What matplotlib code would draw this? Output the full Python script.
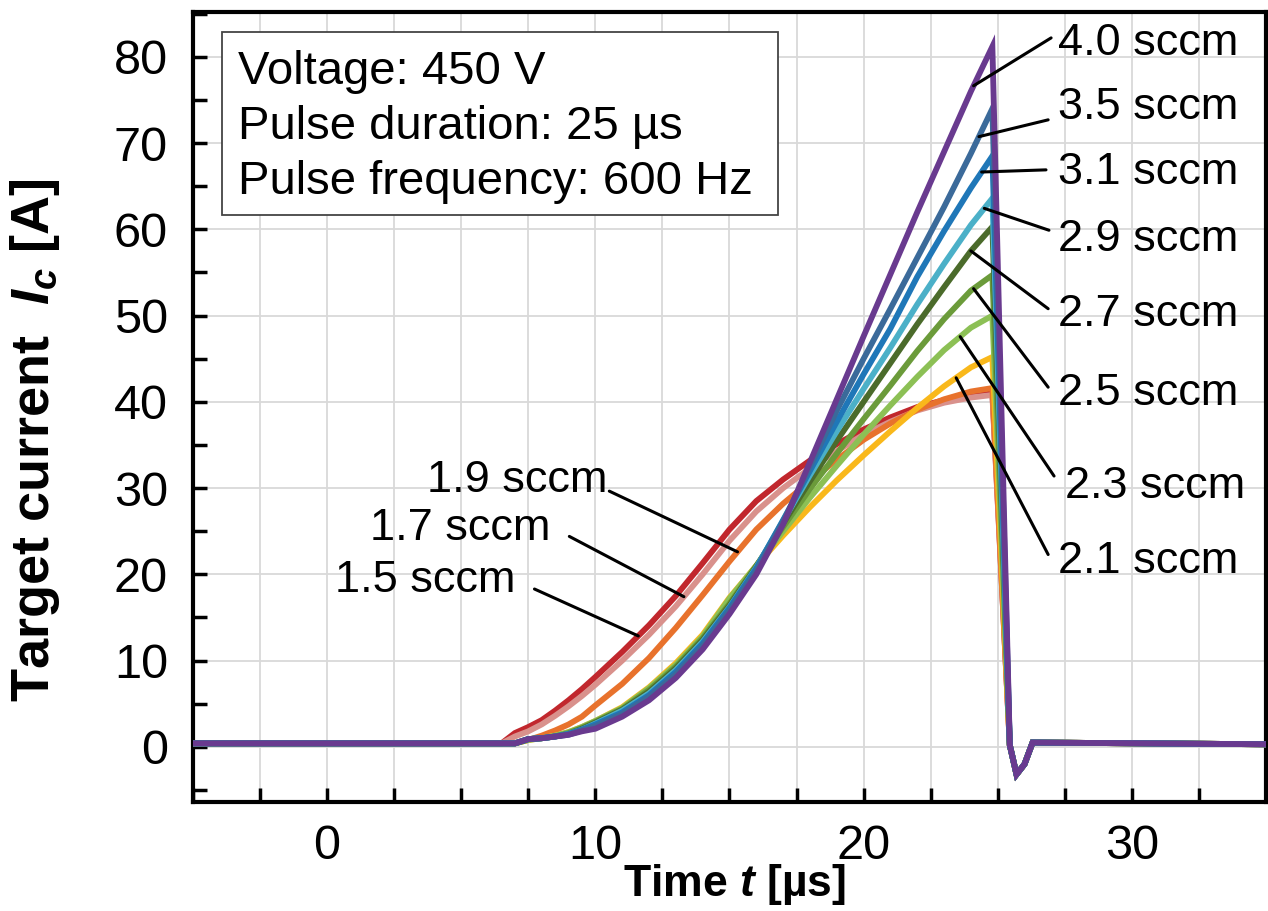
import numpy as np
import matplotlib
matplotlib.use('Agg')
import matplotlib.pyplot as plt
from matplotlib.ticker import MultipleLocator
from matplotlib.patches import Rectangle

plt.rcParams['font.family'] = ['Liberation Sans', 'DejaVu Sans']
plt.rcParams['mathtext.fontset'] = 'custom'
plt.rcParams['mathtext.it'] = 'Liberation Sans:italic:bold'
plt.rcParams['mathtext.rm'] = 'Liberation Sans:bold'

# time axis in microseconds (shared by all curves)
time_us = [-5, 6.5, 7, 7.5, 8, 8.5, 9, 9.5, 10, 11, 12, 13, 14, 15, 16, 17, 18,
           19, 20, 21, 22, 23, 24, 24.8, 25.45, 25.7, 26.0, 26.3, 35]

# target current [A] per Ar flow
i_15 = [0.4, 0.4, 1.6, 2.3, 3.1, 4.2, 5.4, 6.7, 8.1, 11.0, 14.1, 17.5, 21.3, 25.2, 28.5,
        31.0, 33.2, 35.1, 36.8, 38.2, 39.4, 40.2, 40.8, 41.1, 0.2, -3.2, -2.0, 0.5, 0.3]
i_17 = [0.4, 0.4, 1.2, 1.8, 2.6, 3.6, 4.7, 5.9, 7.2, 10.0, 13.0, 16.3, 20.0, 23.9, 27.3,
        30.0, 32.3, 34.3, 36.2, 37.7, 39.0, 39.9, 40.5, 40.8, 0.2, -3.2, -2.0, 0.5, 0.3]
i_19 = [0.4, 0.4, 0.4, 0.8, 1.3, 1.9, 2.6, 3.5, 4.8, 7.3, 10.3, 13.8, 17.6, 21.5, 25.2,
        28.2, 30.8, 33.3, 35.6, 37.5, 39.1, 40.3, 41.2, 41.6, 0.2, -3.2, -2.0, 0.5, 0.3]
i_21 = [0.4, 0.4, 0.4, 0.8, 1.0, 1.3, 1.7, 2.3, 3.0, 4.6, 6.9, 9.7, 13.0, 17.3, 21.0,
        24.5, 27.8, 30.9, 33.8, 36.6, 39.3, 41.8, 44.0, 45.2, 0.2, -3.2, -2.0, 0.5, 0.3]
i_23 = [0.4, 0.4, 0.4, 0.8, 1.0, 1.3, 1.7, 2.3, 3.0, 4.5, 6.8, 9.5, 12.8, 17.2, 21.0,
        25.0, 28.9, 32.6, 36.2, 39.6, 42.9, 46.0, 48.6, 50.0, 0.2, -3.2, -2.0, 0.5, 0.3]
i_25 = [0.4, 0.4, 0.4, 0.9, 1.0, 1.2, 1.6, 2.2, 2.9, 4.4, 6.6, 9.3, 12.6, 16.6, 21.0,
        25.5, 29.9, 34.0, 38.0, 41.9, 45.9, 49.6, 52.9, 54.7, 0.2, -3.2, -2.0, 0.5, 0.3]
i_27 = [0.4, 0.4, 0.4, 0.9, 1.0, 1.2, 1.5, 2.1, 2.8, 4.3, 6.4, 9.1, 12.4, 16.4, 20.9,
        25.9, 30.8, 35.5, 40.0, 44.5, 49.0, 53.3, 57.5, 60.3, 0.2, -3.2, -2.0, 0.5, 0.3]
i_29 = [0.4, 0.4, 0.4, 0.9, 1.0, 1.2, 1.5, 2.0, 2.7, 4.2, 6.2, 8.9, 12.2, 16.2, 20.8,
        26.2, 31.5, 36.6, 41.5, 46.3, 51.3, 56.0, 60.5, 63.6, 0.2, -3.2, -2.0, 0.5, 0.3]
i_31 = [0.4, 0.4, 0.4, 0.9, 1.0, 1.2, 1.5, 2.0, 2.6, 4.0, 6.0, 8.7, 12.0, 16.1, 20.7,
        26.3, 32.0, 37.7, 43.2, 48.5, 54.5, 59.8, 64.8, 68.5, 0.2, -3.2, -2.0, 0.5, 0.3]
i_35 = [0.4, 0.4, 0.4, 0.9, 1.0, 1.2, 1.4, 1.9, 2.4, 3.8, 5.8, 8.4, 11.7, 15.8, 20.4,
        26.1, 32.5, 39.0, 45.0, 50.8, 56.7, 62.6, 68.8, 74.0, 0.2, -3.2, -2.0, 0.5, 0.3]
i_40 = [0.4, 0.4, 0.4, 0.9, 1.0, 1.2, 1.4, 1.8, 2.1, 3.5, 5.4, 8.0, 11.3, 15.4, 20.0,
        25.8, 33.0, 40.3, 47.6, 54.8, 62.0, 69.0, 76.0, 81.2, 0.2, -3.2, -2.0, 0.5, 0.3]

labels = ['1.5 sccm', '1.7 sccm', '1.9 sccm', '2.1 sccm', '2.3 sccm', '2.5 sccm',
          '2.7 sccm', '2.9 sccm', '3.1 sccm', '3.5 sccm', '4.0 sccm']
series = [i_15, i_17, i_19, i_21, i_23, i_25, i_27, i_29, i_31, i_35, i_40]
colors = ['#c1272d', '#d9918c', '#e8722c', '#f9b81b', '#8cc055', '#6b9b3a',
          '#4b6b2b', '#4bb0c8', '#1f77b8', '#3b6a9a', '#693a8f']

# label placement: text anchor, leader line start, time of the point on the curve
text_pos = [(7.03, 19.3), (8.33, 25.3), (10.45, 30.9), (27.25, 21.5), (27.5, 30.2),
            (27.25, 41.0), (27.25, 50.1), (27.25, 58.8), (27.25, 66.6), (27.25, 74.15),
            (27.25, 81.5)]
line_start = [(7.73, 18.3), (9.03, 24.4), (10.52, 29.65), (26.88, 22.3), (27.1, 31.4),
              (26.88, 41.7), (26.88, 50.8), (26.91, 59.9), (26.8, 66.9), (26.88, 72.7),
              (26.99, 82.2)]
line_t = [11.6, 13.3, 15.3, 23.45, 23.6, 24.1, 24.0, 24.5, 24.4, 24.3, 24.1]


def draw(ax):
    for vals, col in zip(series, colors):
        ax.plot(time_us, vals, color=col, lw=4.2, solid_joinstyle='miter', zorder=3)

    for i, lab in enumerate(labels):
        tt = line_t[i]
        vv = np.interp(tt, time_us, series[i])
        ax.annotate('', xy=(tt, vv), xytext=line_start[i],
                    arrowprops=dict(arrowstyle='-', color='black', lw=2.2,
                                    shrinkA=0, shrinkB=0), zorder=4)
        ha = 'right' if i < 3 else 'left'
        ax.text(text_pos[i][0], text_pos[i][1], lab, fontsize=32.5, ha=ha, va='center',
                zorder=5)


def style(ax):
    ax.set_xlim(-5, 35)
    ax.set_ylim(-6.4, 85.2)
    ax.xaxis.set_major_locator(MultipleLocator(10))
    ax.xaxis.set_minor_locator(MultipleLocator(2.5))
    ax.yaxis.set_major_locator(MultipleLocator(10))
    ax.yaxis.set_minor_locator(MultipleLocator(5))
    ax.grid(which='both', axis='x', color='#d9d9d9', lw=1.3)
    ax.grid(which='major', axis='y', color='#d9d9d9', lw=1.3)
    ax.set_axisbelow(True)
    ax.tick_params(which='both', direction='in', length=10, width=2.5,
                   labelsize=35, top=False, right=False)
    ax.tick_params(axis='x', pad=16)
    ax.tick_params(axis='y', pad=18)
    for sp in ax.spines.values():
        sp.set_linewidth(3)

    ax.set_xlabel(r'Time $t$ [µs]', fontsize=32, fontweight='bold')
    ax.set_ylabel(r'Target current  $I_c$ [A]', fontsize=39, fontweight='bold')
    ax.xaxis.set_label_coords(0.505, -0.076)
    ax.yaxis.set_label_coords(-0.122, 0.458)

    ax.add_patch(Rectangle((0.027, 0.743), 0.518, 0.232, transform=ax.transAxes,
                           facecolor='white', edgecolor='#444444', lw=1.3, zorder=5))
    ax.text(0.042, 0.952, 'Voltage: 450 V\nPulse duration: 25 µs\nPulse frequency: 600 Hz',
            transform=ax.transAxes, fontsize=34, va='top', ha='left',
            linespacing=1.33, zorder=6)


def main():
    fig = plt.figure(figsize=(12.68, 9.11), dpi=100)
    ax = fig.add_axes([0.1522, 0.1196, 0.8462, 0.8672])
    draw(ax)
    style(ax)
    fig.savefig('out.png', dpi=100)


if __name__ == "__main__":
    main()
